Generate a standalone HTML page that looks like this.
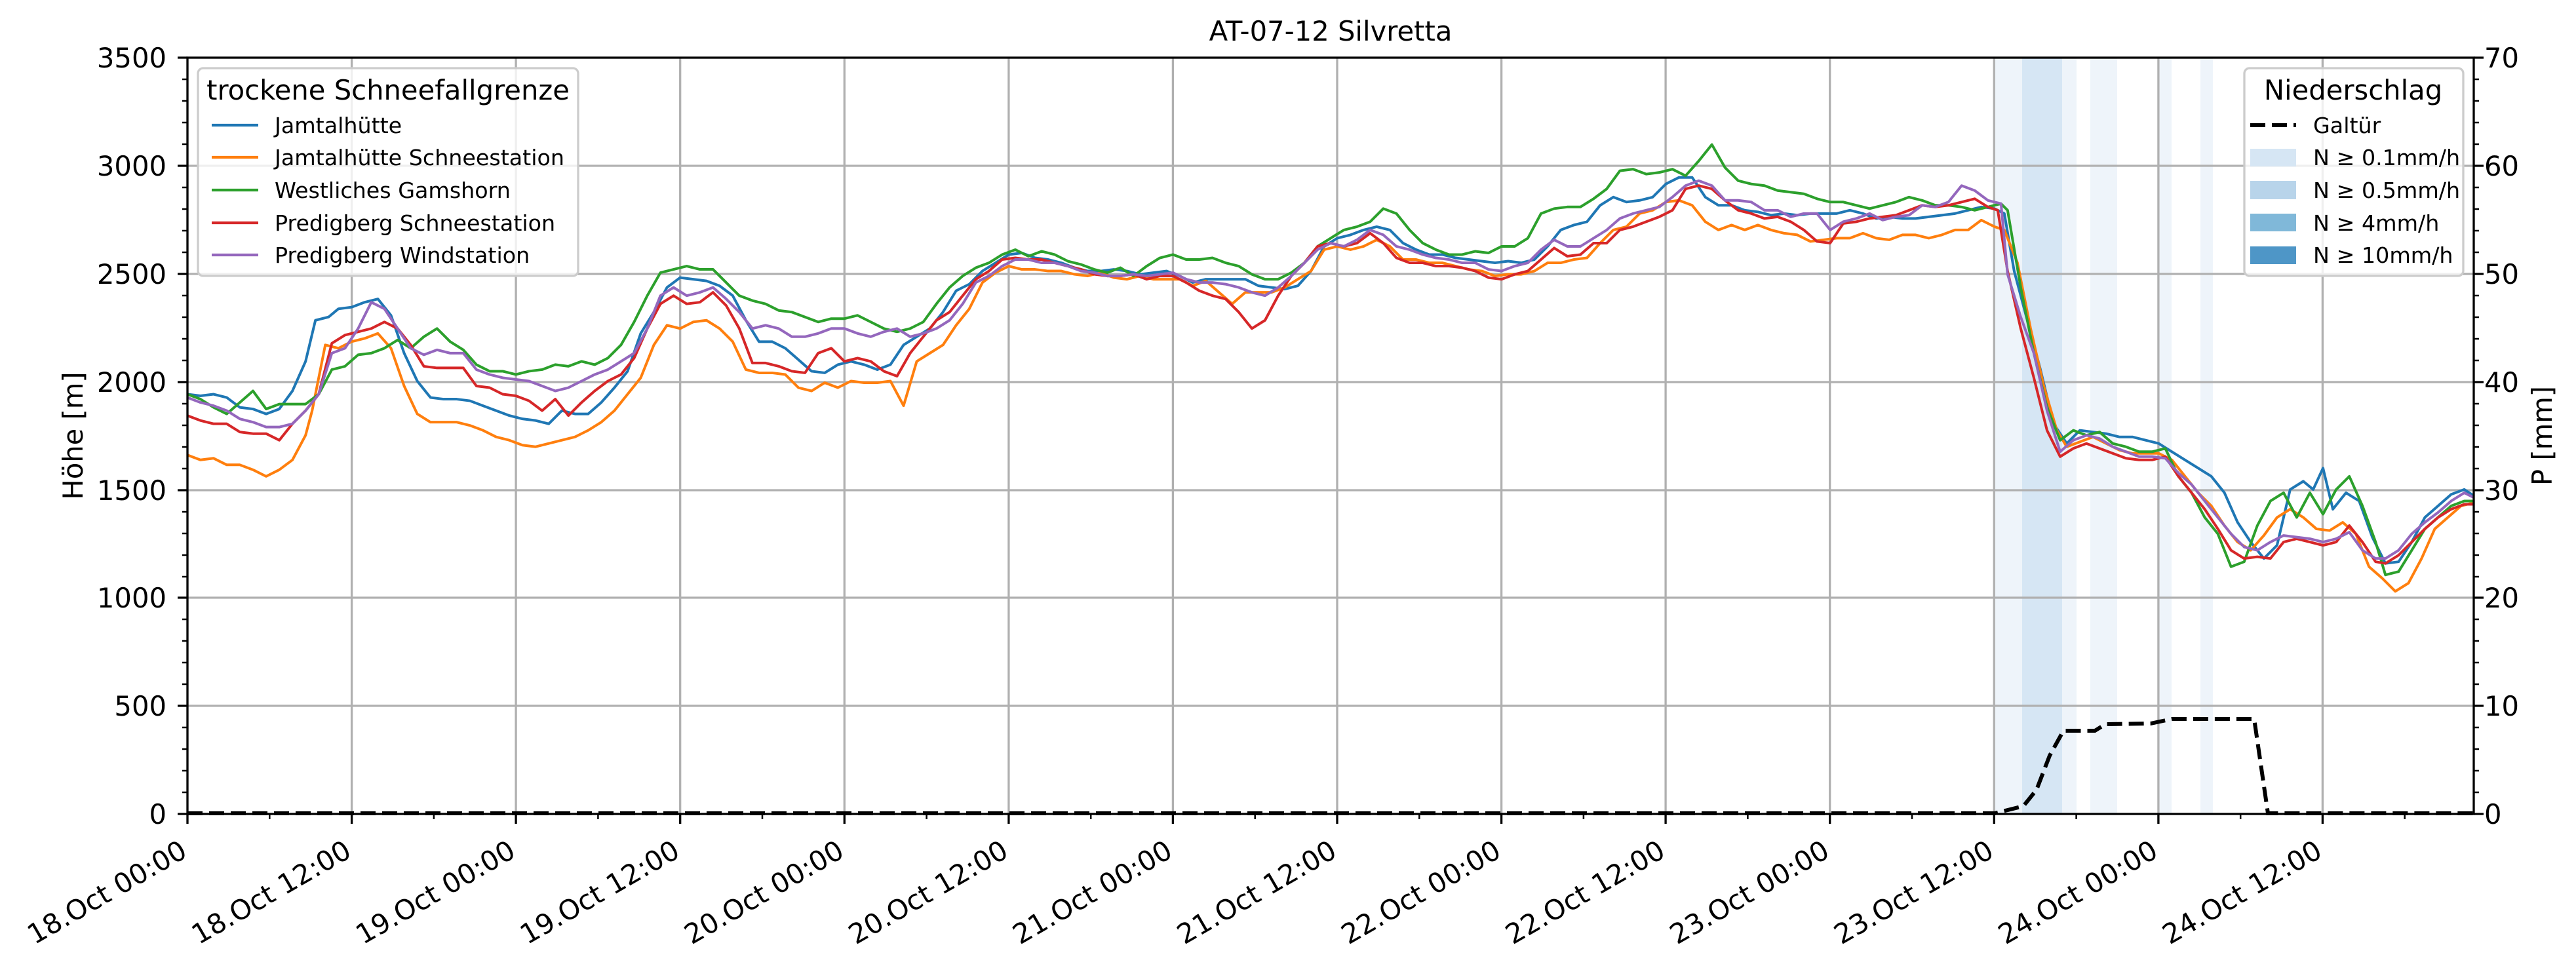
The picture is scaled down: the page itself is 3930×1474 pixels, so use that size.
<!DOCTYPE html>
<html><head><meta charset="utf-8"><style>
html,body{margin:0;padding:0;background:#fff;}
svg{display:block;font-family:"DejaVu Sans","Liberation Sans",sans-serif;}
</style></head><body>
<svg width="3930" height="1474" viewBox="0 0 3930 1474" xmlns="http://www.w3.org/2000/svg">
<rect width="3930" height="1474" fill="#fff"/>
<g>
<rect x="3044" y="88" width="41" height="1154" fill="#eef4fa"/>
<rect x="3085" y="88" width="61" height="1154" fill="#d6e6f4"/>
<rect x="3146" y="88" width="22" height="1154" fill="#eef4fa"/>
<rect x="3189" y="88" width="41" height="1154" fill="#eef4fa"/>
<rect x="3294" y="88" width="19" height="1154" fill="#eef4fa"/>
<rect x="3357" y="88" width="19" height="1154" fill="#eef4fa"/>
</g>
<g stroke="#b0b0b0" stroke-width="3.3">
<line x1="536.6" y1="88" x2="536.6" y2="1242"/><line x1="787.1" y1="88" x2="787.1" y2="1242"/><line x1="1037.7" y1="88" x2="1037.7" y2="1242"/><line x1="1288.3" y1="88" x2="1288.3" y2="1242"/><line x1="1538.9" y1="88" x2="1538.9" y2="1242"/><line x1="1789.4" y1="88" x2="1789.4" y2="1242"/><line x1="2040" y1="88" x2="2040" y2="1242"/><line x1="2290.6" y1="88" x2="2290.6" y2="1242"/><line x1="2541.1" y1="88" x2="2541.1" y2="1242"/><line x1="2791.7" y1="88" x2="2791.7" y2="1242"/><line x1="3042.3" y1="88" x2="3042.3" y2="1242"/><line x1="3292.9" y1="88" x2="3292.9" y2="1242"/><line x1="3543.4" y1="88" x2="3543.4" y2="1242"/>
<line x1="286" y1="253" x2="3774" y2="253"/><line x1="286" y1="418" x2="3774" y2="418"/><line x1="286" y1="583" x2="3774" y2="583"/><line x1="286" y1="748" x2="3774" y2="748"/><line x1="286" y1="912" x2="3774" y2="912"/><line x1="286" y1="1077" x2="3774" y2="1077"/>
</g>
<g transform="scale(2.5064)" fill="none" stroke-width="4" stroke-linejoin="round">
<polyline vector-effect="non-scaling-stroke" stroke="#1f77b4" points="114,240 122,241 130,240 138,242 146,248 154,249 162,252 170,249 178,238 186,220 192,195 200,193 206,188 214,187 222,184 230,182 238,192 246,215 254,232 262,242 270,243 278,243 286,244 294,247 302,250 310,253 318,255 326,256 334,258 342,250 350,252 358,252 366,245 374,236 382,226 390,203 398,190 406,175 414,169 422,170 430,171 438,174 446,180 454,195 462,208 470,208 478,212 486,219 494,226 502,227 510,222 518,220 526,222 534,225 542,222 550,210 558,205 566,200 574,190 582,177 590,173 598,165 606,160 614,155 622,154 630,157 638,158 646,160 654,163 662,165 670,165 678,164 686,165 694,167 702,166 710,165 718,168 726,172 734,170 742,170 750,170 758,170 766,174 774,175 782,176 790,174 798,165 806,150 814,145 822,143 830,140 838,138 846,140 854,148 862,152 870,155 878,155 886,157 894,158 902,159 910,160 918,159 926,160 934,158 942,150 950,140 958,137 966,135 974,125 982,120 990,123 998,122 1006,120 1014,112 1022,108 1030,108 1038,120 1046,125 1054,125 1062,128 1070,129 1078,131 1086,130 1094,131 1102,130 1110,130 1118,130 1126,128 1134,130 1142,133 1150,132 1158,133 1166,133 1174,132 1182,131 1190,130 1198,128 1206,126 1214,127 1220,130 1226,165 1234,195 1242,225 1250,258 1258,270 1266,262 1274,263 1282,264 1290,266 1298,266 1306,268 1314,270 1322,275 1330,280 1338,285 1346,290 1354,300 1362,318 1370,330 1378,340 1386,332 1394,298 1402,293 1408,298 1414,285 1420,310 1428,300 1436,305 1444,327 1452,343 1460,342 1468,330 1476,315 1484,308 1492,301 1500,298 1506,302"/>
<polyline vector-effect="non-scaling-stroke" stroke="#ff7f0e" points="114,277 122,280 130,279 138,283 146,283 154,286 162,290 170,286 178,280 186,265 190,250 198,210 206,212 214,208 222,206 230,203 238,212 246,235 254,252 262,257 270,257 278,257 286,259 294,262 302,266 310,268 318,271 326,272 334,270 342,268 350,266 358,262 366,257 374,250 382,240 390,230 398,210 406,198 414,200 422,196 430,195 438,200 446,208 454,225 462,227 470,227 478,228 486,236 494,238 502,233 510,236 518,232 526,233 534,233 542,232 550,247 558,220 566,215 574,210 582,198 590,188 598,172 606,166 614,162 622,164 630,164 638,165 646,165 654,167 662,168 670,166 678,169 686,170 694,168 702,170 710,170 718,170 726,174 734,171 742,178 750,185 758,178 766,178 774,178 782,175 790,170 798,165 806,152 814,150 822,152 830,150 838,146 846,150 854,158 862,158 870,160 878,160 886,162 894,164 902,165 910,168 918,167 926,167 934,165 942,160 950,160 958,158 966,157 974,148 982,140 990,138 998,130 1006,128 1014,123 1022,122 1030,125 1038,135 1046,140 1054,137 1062,140 1070,137 1078,140 1086,142 1094,143 1102,147 1110,146 1118,145 1126,145 1134,142 1142,145 1150,146 1158,143 1166,143 1174,145 1182,143 1190,140 1198,140 1206,134 1214,138 1220,140 1228,160 1236,200 1244,235 1252,262 1258,272 1266,269 1274,266 1282,270 1290,274 1298,276 1306,276 1314,276 1322,280 1330,290 1338,300 1346,308 1354,320 1362,330 1370,335 1378,326 1386,315 1394,310 1402,315 1410,322 1418,323 1426,318 1434,325 1442,345 1450,352 1458,360 1466,355 1474,340 1482,322 1490,315 1498,308 1506,306"/>
<polyline vector-effect="non-scaling-stroke" stroke="#2ca02c" points="114,240 122,243 130,248 138,252 146,245 154,238 162,249 170,246 178,246 186,246 194,240 202,225 210,223 218,216 226,215 234,212 242,207 250,212 258,205 266,200 274,208 282,213 290,222 298,226 306,226 314,228 322,226 330,225 338,222 346,223 354,220 362,222 370,218 378,210 386,196 394,180 402,166 410,164 418,162 426,164 434,164 442,172 450,180 458,183 466,185 474,189 482,190 490,193 498,196 506,194 514,194 522,192 530,196 538,200 546,202 554,200 562,196 570,185 578,175 586,168 594,163 602,160 610,155 618,152 626,156 634,153 642,155 650,159 658,161 666,164 674,166 682,163 690,168 698,162 706,157 714,155 722,158 730,158 738,157 746,160 754,162 762,167 770,170 778,170 786,166 794,160 802,150 810,145 818,140 826,138 834,135 842,127 850,130 858,140 866,148 874,152 882,155 890,155 898,153 906,154 914,150 922,150 930,145 938,130 946,127 954,126 962,126 970,121 978,115 986,104 994,103 1002,106 1010,105 1018,103 1026,107 1034,98 1042,88 1050,102 1058,110 1066,112 1074,113 1082,116 1090,117 1098,118 1106,121 1114,123 1122,123 1130,125 1138,127 1146,125 1154,123 1162,120 1170,122 1178,125 1186,125 1194,126 1202,128 1210,126 1218,124 1222,128 1230,175 1238,215 1246,248 1254,268 1262,262 1270,265 1278,263 1286,270 1294,272 1302,275 1310,275 1318,273 1326,290 1334,300 1342,315 1350,325 1358,345 1366,342 1374,320 1382,305 1390,300 1398,315 1406,300 1414,313 1422,298 1430,290 1438,308 1446,330 1452,350 1460,348 1468,335 1476,322 1484,315 1492,308 1500,305 1506,305"/>
<polyline vector-effect="non-scaling-stroke" stroke="#d62728" points="114,253 122,256 130,258 138,258 146,263 154,264 162,264 170,268 178,258 186,250 194,240 202,209 210,204 218,202 226,200 234,196 242,200 250,210 258,223 266,224 274,224 282,224 290,235 298,236 306,240 314,241 322,244 330,250 338,243 346,253 354,245 362,238 370,232 378,228 386,218 394,200 402,185 410,180 418,185 426,184 434,178 442,186 450,200 458,221 466,221 474,223 482,226 490,227 498,215 506,212 514,220 522,218 530,220 538,226 546,229 554,215 562,205 570,195 578,190 586,180 594,170 602,165 610,158 618,157 626,158 634,158 642,160 650,162 658,164 666,167 674,168 682,168 690,167 698,170 706,168 714,168 722,172 730,177 738,180 746,182 754,190 762,200 770,195 778,180 786,168 794,160 802,150 810,148 818,150 826,148 834,142 842,148 850,157 858,160 866,160 874,162 882,162 890,163 898,165 906,169 914,170 922,167 930,165 938,158 946,151 954,156 962,155 970,148 978,148 986,140 994,138 1002,135 1010,132 1018,128 1026,115 1034,113 1042,115 1050,122 1058,128 1066,130 1074,133 1082,132 1090,135 1098,140 1106,147 1114,148 1122,136 1130,135 1138,133 1146,132 1154,131 1162,128 1170,125 1178,126 1186,125 1194,123 1202,121 1210,126 1216,128 1222,165 1230,200 1238,230 1246,262 1254,278 1262,273 1270,270 1278,273 1286,276 1294,279 1302,280 1310,280 1318,278 1326,290 1334,300 1342,310 1350,322 1358,335 1366,340 1374,339 1382,340 1390,330 1398,328 1406,330 1414,332 1422,330 1430,320 1438,330 1446,342 1452,343 1460,338 1468,330 1476,322 1484,315 1492,310 1500,307 1506,307"/>
<polyline vector-effect="non-scaling-stroke" stroke="#9467bd" points="114,242 122,245 130,247 138,250 146,255 154,257 162,260 170,260 178,258 186,250 194,240 202,215 210,212 218,200 226,184 234,188 242,200 250,212 258,216 266,213 274,215 282,215 290,225 298,228 306,230 314,231 322,232 330,235 338,238 346,236 354,232 362,228 370,225 378,220 386,215 394,200 402,180 410,175 418,180 426,178 434,175 442,182 450,190 458,200 466,198 474,200 482,205 490,205 498,203 506,200 514,200 522,203 530,205 538,202 546,200 554,205 562,203 570,200 578,195 586,185 594,172 602,168 610,162 618,158 626,158 634,160 642,160 650,162 658,165 666,166 674,168 682,168 690,167 698,168 706,167 714,166 722,170 730,172 738,172 746,173 754,175 762,178 770,180 778,175 786,168 794,160 802,152 810,148 818,150 826,146 834,140 842,143 850,150 858,152 866,155 874,157 882,158 890,160 898,160 906,164 914,165 922,162 930,160 938,152 946,146 954,150 962,150 970,145 978,140 986,133 994,130 1002,128 1010,126 1018,120 1026,113 1034,110 1042,113 1050,122 1058,122 1066,123 1074,128 1082,128 1090,132 1098,130 1106,130 1114,140 1122,135 1130,133 1138,130 1146,134 1154,132 1162,131 1170,125 1178,126 1186,123 1194,113 1202,116 1210,122 1218,124 1222,167 1230,193 1238,215 1246,250 1254,275 1262,268 1270,265 1278,267 1286,272 1294,275 1302,278 1310,278 1318,279 1326,288 1334,295 1342,305 1350,315 1358,325 1366,333 1374,335 1382,330 1390,326 1398,327 1406,328 1414,330 1422,328 1430,324 1438,335 1446,340 1452,340 1460,335 1468,325 1476,318 1484,312 1492,305 1500,300 1506,303"/>
</g>
<polyline fill="none" stroke="#000" stroke-width="6" stroke-dasharray="23,10" points="286,1241 3043,1241 3087,1230 3107,1205 3127,1153 3148,1115 3196,1115 3212,1105 3281,1104 3314,1097 3439,1097 3460,1241 3774,1241"/>
<rect x="286" y="88" width="3488" height="1154" fill="none" stroke="#000" stroke-width="3.3"/>
<g stroke="#000" stroke-width="3.3">
<path d="M286,1242v15M536.6,1242v15M787.1,1242v15M1037.7,1242v15M1288.3,1242v15M1538.9,1242v15M1789.4,1242v15M2040,1242v15M2290.6,1242v15M2541.1,1242v15M2791.7,1242v15M3042.3,1242v15M3292.9,1242v15M3543.4,1242v15"/>
<path stroke-width="2.5" d="M411.3,1242v8M661.9,1242v8M912.4,1242v8M1163,1242v8M1413.6,1242v8M1664.2,1242v8M1914.7,1242v8M2165.3,1242v8M2415.9,1242v8M2666.4,1242v8M2917,1242v8M3167.6,1242v8M3418.2,1242v8M3668.7,1242v8"/>
<path d="M286,88h-15M286,253h-15M286,418h-15M286,583h-15M286,748h-15M286,912h-15M286,1077h-15M286,1242h-15"/>
<path d="M3774,88h15M3774,253h15M3774,418h15M3774,583h15M3774,748h15M3774,912h15M3774,1077h15M3774,1242h15"/>
<path stroke-width="2.5" d="M286,121h-8M286,154h-8M286,187h-8M286,220h-8M286,286h-8M286,319h-8M286,352h-8M286,385h-8M286,451h-8M286,484h-8M286,517h-8M286,550h-8M286,616h-8M286,649h-8M286,682h-8M286,715h-8M286,781h-8M286,814h-8M286,847h-8M286,880h-8M286,945h-8M286,978h-8M286,1011h-8M286,1044h-8M286,1110h-8M286,1143h-8M286,1176h-8M286,1209h-8"/>
<path stroke-width="2.5" d="M3774,121h8M3774,154h8M3774,187h8M3774,220h8M3774,286h8M3774,319h8M3774,352h8M3774,385h8M3774,451h8M3774,484h8M3774,517h8M3774,550h8M3774,616h8M3774,649h8M3774,682h8M3774,715h8M3774,781h8M3774,814h8M3774,847h8M3774,880h8M3774,945h8M3774,978h8M3774,1011h8M3774,1044h8M3774,1110h8M3774,1143h8M3774,1176h8M3774,1209h8"/>
</g>
<g font-size="41.7" fill="#000" text-anchor="end">
<text x="254" y="103">3500</text><text x="254" y="268">3000</text><text x="254" y="433">2500</text><text x="254" y="598">2000</text><text x="254" y="763">1500</text><text x="254" y="927">1000</text><text x="254" y="1092">500</text><text x="254" y="1257">0</text>
</g>
<g font-size="41.7" fill="#000">
<text x="3790" y="103">70</text><text x="3790" y="268">60</text><text x="3790" y="433">50</text><text x="3790" y="598">40</text><text x="3790" y="763">30</text><text x="3790" y="927">20</text><text x="3790" y="1092">10</text><text x="3790" y="1257">0</text>
</g>
<g font-size="41.7" fill="#000" text-anchor="end">
<text transform="translate(288,1306) rotate(-30)">18.Oct 00:00</text>
<text transform="translate(538.6,1306) rotate(-30)">18.Oct 12:00</text>
<text transform="translate(789.1,1306) rotate(-30)">19.Oct 00:00</text>
<text transform="translate(1039.7,1306) rotate(-30)">19.Oct 12:00</text>
<text transform="translate(1290.3,1306) rotate(-30)">20.Oct 00:00</text>
<text transform="translate(1540.9,1306) rotate(-30)">20.Oct 12:00</text>
<text transform="translate(1791.4,1306) rotate(-30)">21.Oct 00:00</text>
<text transform="translate(2042,1306) rotate(-30)">21.Oct 12:00</text>
<text transform="translate(2292.6,1306) rotate(-30)">22.Oct 00:00</text>
<text transform="translate(2543.1,1306) rotate(-30)">22.Oct 12:00</text>
<text transform="translate(2793.7,1306) rotate(-30)">23.Oct 00:00</text>
<text transform="translate(3044.3,1306) rotate(-30)">23.Oct 12:00</text>
<text transform="translate(3294.9,1306) rotate(-30)">24.Oct 00:00</text>
<text transform="translate(3545.4,1306) rotate(-30)">24.Oct 12:00</text>
</g>
<text font-size="41.7" text-anchor="middle" transform="translate(126,665) rotate(-90)">Höhe [m]</text>
<text font-size="41.7" text-anchor="middle" transform="translate(3893,665) rotate(-90)">P [mm]</text>
<text font-size="41.7" text-anchor="middle" x="2030" y="62">AT-07-12 Silvretta</text>
<rect x="302" y="104" width="580" height="317" rx="8" fill="#fff" fill-opacity="0.8" stroke="#cccccc" stroke-width="3.3"/>
<text font-size="41.7" x="592" y="152" text-anchor="middle">trockene Schneefallgrenze</text>
<g stroke-width="4.2">
<line x1="323" y1="191" x2="394" y2="191" stroke="#1f77b4"/>
<line x1="323" y1="240" x2="394" y2="240" stroke="#ff7f0e"/>
<line x1="323" y1="290" x2="394" y2="290" stroke="#2ca02c"/>
<line x1="323" y1="340" x2="394" y2="340" stroke="#d62728"/>
<line x1="323" y1="389" x2="394" y2="389" stroke="#9467bd"/>
</g>
<g font-size="33.3">
<text x="419" y="203">Jamtalhütte</text>
<text x="419" y="252">Jamtalhütte Schneestation</text>
<text x="419" y="302">Westliches Gamshorn</text>
<text x="419" y="352">Predigberg Schneestation</text>
<text x="419" y="401">Predigberg Windstation</text>
</g>
<rect x="3424" y="104" width="334" height="317" rx="8" fill="#fff" fill-opacity="0.8" stroke="#cccccc" stroke-width="3.3"/>
<text font-size="41.7" x="3590" y="152" text-anchor="middle">Niederschlag</text>
<line x1="3433" y1="191" x2="3503" y2="191" stroke="#000" stroke-width="6" stroke-dasharray="23,10"/>
<rect x="3433" y="227" width="70" height="27" fill="#d6e6f4"/>
<rect x="3433" y="276" width="70" height="28" fill="#b8d4ea"/>
<rect x="3433" y="326" width="70" height="27" fill="#80b8d9"/>
<rect x="3433" y="376" width="70" height="27" fill="#4e96c7"/>
<g font-size="33.3">
<text x="3529" y="203">Galtür</text>
<text x="3529" y="252">N ≥ 0.1mm/h</text>
<text x="3529" y="302">N ≥ 0.5mm/h</text>
<text x="3529" y="352">N ≥ 4mm/h</text>
<text x="3529" y="401">N ≥ 10mm/h</text>
</g>
</svg>
</body></html>
